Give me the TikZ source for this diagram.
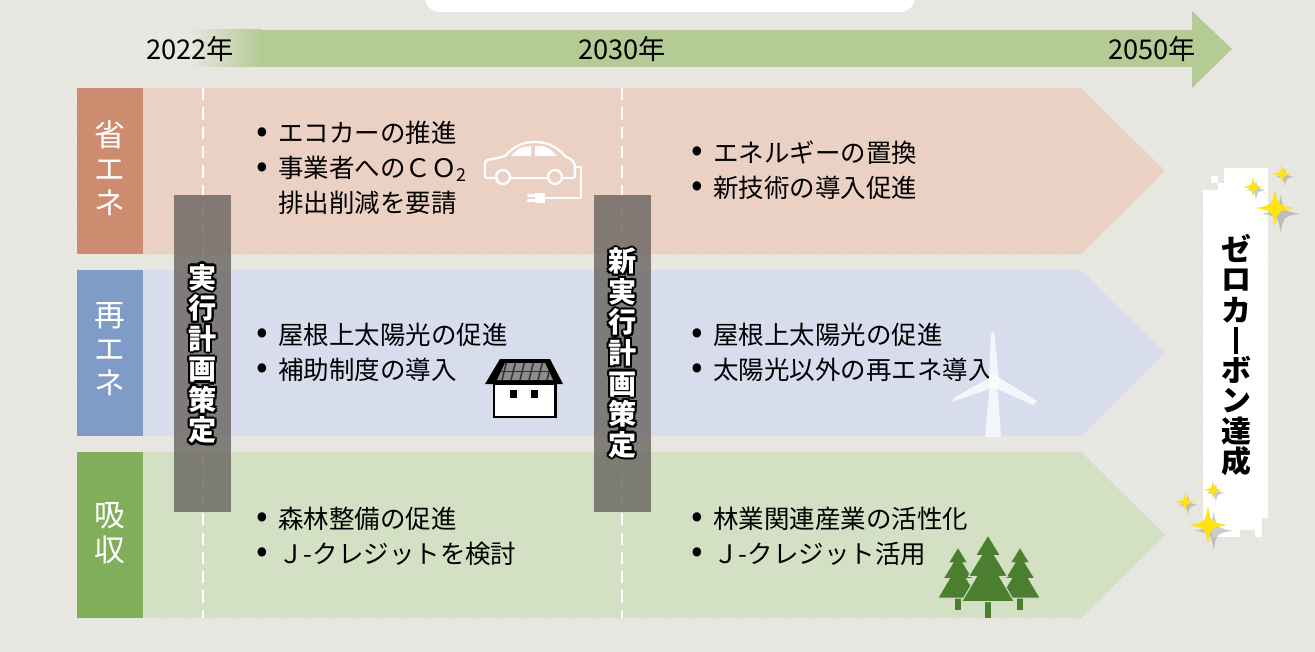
\documentclass[tikz,border=0pt]{standalone}
\usepackage{fontspec}
\usepackage{graphicx}
\setmainfont{Noto Sans CJK JP}

\definecolor{bgGray}{HTML}{E8E6E1}
\definecolor{timeGreen}{HTML}{B5CB95}
\definecolor{eneLabel}{HTML}{CD8B6F}
\definecolor{eneBody}{HTML}{EBD1C4}
\definecolor{reLabel}{HTML}{7F9CC9}
\definecolor{reBody}{HTML}{D8DDEE}
\definecolor{kyuLabel}{HTML}{80AE5A}
\definecolor{kyuBody}{HTML}{D3E0C3}
\definecolor{planGray}{HTML}{6B6661}
\definecolor{treeGreen}{HTML}{4B7F2F}
\definecolor{sparkYellow}{HTML}{FFE411}

\newcommand{\itm}{\makebox[0.44cm][l]{\raisebox{0.02em}{\scalebox{1.35}{•}}}}
\newcommand{\ind}{\hspace*{0.44cm}}
\newcommand{\vbar}{\rule[-0.08em]{0.12em}{0.9em}}

\tikzset{
  rowlabel/.style={text=white, align=center, inner sep=0pt, font=\fontsize{17.5}{19.5}\selectfont},
  itemtext/.style={anchor=west, align=left, inner sep=0pt, font=\fontsize{14.5}{19.9}\selectfont},
  yeartext/.style={inner sep=0pt, font=\fontsize{15.5}{18}\selectfont},
  plantext/.style={align=center, inner sep=0pt, font=\fontsize{16}{17.4}\selectfont\bfseries},
  goaltext/.style={align=center, inner sep=0pt, font=\fontsize{17}{17.2}\selectfont\bfseries},
  sparkle/.pic={
    \fill[black!45, opacity=0.45] (3,-7) .. controls (4.5,1.5) .. (13,3) .. controls (4.5,4.5) .. (3,13) .. controls (1.5,4.5) .. (-7,3) .. controls (1.5,1.5) .. (3,-7) -- cycle;
    \fill[sparkYellow] (0,-10) .. controls (1.5,-1.5) .. (10,0) .. controls (1.5,1.5) .. (0,10) .. controls (-1.5,1.5) .. (-10,0) .. controls (-1.5,-1.5) .. (0,-10) -- cycle;
  },
  fir/.pic={
    \fill[treeGreen] (-3,50) rectangle (3,72);
    \fill[treeGreen, draw=kyuBody, line width=0.6pt] (0,0) -- (11,18) -- (6,18) -- (17,36) -- (10,36) -- (23,58) -- (-23,58) -- (-10,36) -- (-17,36) -- (-6,18) -- (-11,18) -- cycle;
  }
}

\begin{document}
\begin{tikzpicture}[x=0.02cm, y=-0.02cm, >=latex]
    \useasboundingbox (0,0) rectangle (1315,652);

    % 1. Nền xám và vân chéo
    \fill[bgGray] (0,0) rectangle (1315,652);
    \begin{scope}
      \clip (0,0) rectangle (1315,652);
      \foreach \i in {-400,-388,...,1320}
        \draw[white, opacity=0.18, line width=0.4pt] (\i,652) -- (\i+380,0);
    \end{scope}
    \fill[white, rounded corners=0.3cm] (425,-30) rectangle (915,12);

    % 2. Mũi tên thời gian
    \shade[left color=bgGray, right color=timeGreen] (190,30) rectangle (262,67);
    \fill[timeGreen] (261,30) -- (1192,30) -- (1192,11) -- (1232,49) -- (1192,88) -- (1192,67) -- (261,67) -- cycle;
    \node[yeartext] (y2022) at (190,49) {2022年};
    \node[yeartext] (y2030) at (622,49) {2030年};
    \node[yeartext] (y2050) at (1152,49) {2050年};

    % 3. Ba hàng: nhãn bên trái + mũi tên nền
    \foreach \yt/\lc/\bc in {88/eneLabel/eneBody, 270/reLabel/reBody, 452/kyuLabel/kyuBody} {
      \fill[\bc] (143,\yt) -- (1081,\yt) -- (1165,\yt+83) -- (1081,\yt+166) -- (143,\yt+166) -- cycle;
      \fill[\lc] (77,\yt) rectangle (143,\yt+166);
    }
    \node[rowlabel] (ene-label) at (110,168) {省\\エ\\ネ};
    \node[rowlabel] (re-label) at (110,349) {再\\エ\\ネ};
    \node[rowlabel] (kyu-label) at (110,533) {吸\\収};

    % 4. Đường mốc năm (nét đứt)
    \draw[white, line width=1.5pt, dash pattern=on 7pt off 4pt] (203,88) -- (203,618);
    \draw[white, line width=1.5pt, dash pattern=on 7pt off 4pt] (622,88) -- (622,618);

    % 5. Nội dung từng hàng
    \node[itemtext] (ene-now) at (256,168) {\itm エコカーの推進\\\itm 事業者へのＣＯ\textsubscript{2}\\\ind 排出削減を要請};
    \node[itemtext] (ene-next) at (691,170) {\itm エネルギーの置換\\\itm 新技術の導入促進};
    \node[itemtext] (re-now) at (256,352) {\itm 屋根上太陽光の促進\\\itm 補助制度の導入};
    \node[itemtext] (re-next) at (691,352) {\itm 屋根上太陽光の促進\\\itm 太陽光以外の再エネ導入};
    \node[itemtext] (kyu-now) at (256,536) {\itm 森林整備の促進\\\itm Ｊ-クレジットを検討};
    \node[itemtext] (kyu-next) at (691,536) {\itm 林業関連産業の活性化\\\itm Ｊ-クレジット活用};

    % 6. Biểu tượng: ô tô điện
    \begin{scope}[white, line width=1.3pt, line join=round, line cap=round]
      \draw (497,178) -- (490,178) .. controls (485,178) .. (485,173) -- (485,166) .. controls (485,160) .. (493,159) -- (505,156) .. controls (515,145) and (524,142) .. (535,142) .. controls (550,142) and (559,149) .. (566,157) .. controls (573,159) and (575,163) .. (575,168) -- (575,173) .. controls (575,178) .. (570,178) -- (563,178);
      \draw (510,178) -- (548,178);
      \draw (503,177) circle (7);
      \draw (555,177) circle (7);
      \fill (511,156) -- (518,149) .. controls (523,147) .. (531,146) -- (531,156) -- cycle;
      \fill (535,146) .. controls (545,146) .. (551,150) -- (557,156) -- (535,156) -- cycle;
      \draw (575,167) -- (581,167) -- (581,198) -- (545,198);
      \fill (535,193) rectangle (545,203);
      \draw (528,195.5) -- (535,195.5);
      \draw (528,200.5) -- (535,200.5);
    \end{scope}

    % 7. Nhà có tấm pin mặt trời
    \fill[black] (500,359) -- (550,359) -- (563,384) -- (485,384) -- cycle;
    \begin{scope}
      \clip (505,363) -- (545,363) -- (553,380) -- (497,380) -- cycle;
      \fill[black!45] (490,360) rectangle (560,384);
      \foreach \gx in {507,516,...,552}
        \draw[black!80, line width=0.9pt] (\gx-6,384) -- (\gx,360);
      \draw[black!80, line width=0.9pt] (490,371.5) -- (560,371.5);
    \end{scope}
    \draw[black, fill=white, line width=1.7pt] (494,384) rectangle (555,417);
    \fill[black] (510,390) rectangle (517,398);
    \fill[black] (531,390) rectangle (538,398);

    % 8. Tuabin gió (màu nhạt)
    \begin{scope}[white, opacity=0.75]
      \fill (990,382) -- (997,382) -- (1001,437) -- (985,437) -- cycle;
      \fill (989,380) -- (991,334) -- (994,331) -- (999,380) -- cycle;
      \fill (991,377) -- (955,397) -- (952,402) -- (994,387) -- cycle;
      \fill (993,387) -- (1033,405) -- (1037,401) -- (998,377) -- cycle;
      \fill (994,381) circle (6);
    \end{scope}

    % 9. Rừng cây
    \pic[scale=0.88] at (958,547) {fir};
    \pic[scale=0.88] at (1020,547) {fir};
    \pic[scale=1.15] at (988,535) {fir};

    % 10. Khối "kế hoạch" trong suốt, chữ trắng viền đen
    \fill[planGray, opacity=0.82] (174,195) rectangle (231,512);
    \fill[planGray, opacity=0.82] (594,195) rectangle (651,512);
    \foreach \a in {0,45,...,315} {
      \node[plantext, text=black, shift={(\a:0.045cm)}] (plan1-o\a) at (202.5,354) {実\\行\\計\\画\\策\\定};
      \node[plantext, text=black, shift={(\a:0.045cm)}] (plan2-o\a) at (622.5,353) {新\\実\\行\\計\\画\\策\\定};
    }
    \node[plantext, text=white] (plan1) at (202.5,354) {実\\行\\計\\画\\策\\定};
    \node[plantext, text=white] (plan2) at (622.5,353) {新\\実\\行\\計\\画\\策\\定};

    % 11. Mục tiêu 2050
    \fill[white] (1203,190) rectangle (1268,518);
    \fill[white] (1224,168) rectangle (1268,190);
    \fill[white] (1211,176) rectangle (1218,183);
    \fill[white] (1218,183) rectangle (1224,190);
    \fill[white] (1203,518) rectangle (1262,530);
    \fill[white] (1255,530) rectangle (1262,537);
    \fill[white] (1212,530) rectangle (1240,537);
    \node[goaltext] (goal) at (1236,355) {ゼ\\ロ\\カ\\\vbar\\ボ\\ン\\達\\成};

    % 12. Ngôi sao lấp lánh
    \pic[scale=1.0] at (1253,187) {sparkle};
    \pic[scale=0.95] at (1282,174) {sparkle};
    \pic[scale=1.9] at (1275,208) {sparkle};
    \pic[scale=0.95] at (1213,490) {sparkle};
    \pic[scale=1.0] at (1185,502) {sparkle};
    \pic[scale=1.9] at (1208,525) {sparkle};

\end{tikzpicture}
\end{document}
